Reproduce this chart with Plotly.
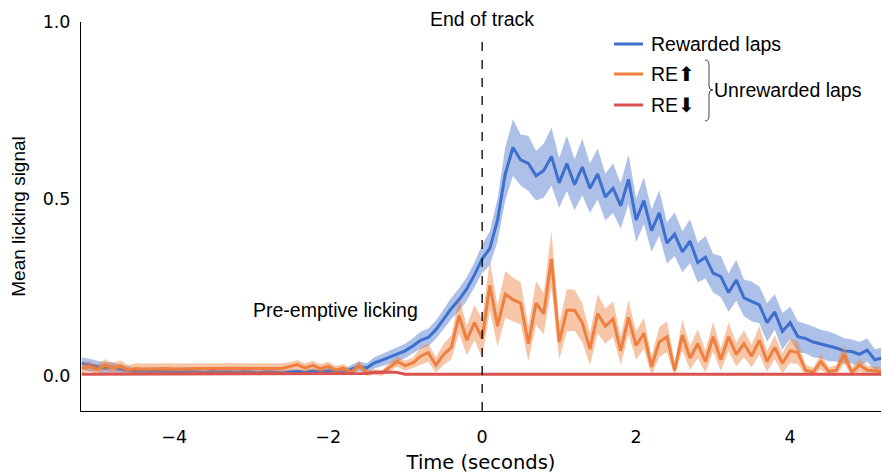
import numpy as np
import plotly.graph_objects as go

# Time axis (s), 0.1 s bins relative to the end of the track
time_s = np.round(np.arange(-52, 53) / 10.0, 1)

rewarded_mean = [
    0.035, 0.030, 0.027, 0.021, 0.024, 0.017, 0.015, 0.012, 0.014, 0.012,
    0.013, 0.011, 0.012, 0.010, 0.012, 0.010, 0.009, 0.012, 0.010, 0.011,
    0.009, 0.012, 0.010, 0.008, 0.011, 0.010, 0.008, 0.010, 0.012, 0.009,
    0.013, 0.010, 0.014, 0.012, 0.010, 0.018, 0.026, 0.022, 0.036, 0.044,
    0.052, 0.060, 0.070, 0.084, 0.100, 0.108, 0.130, 0.160, 0.190, 0.215,
    0.245, 0.285, 0.330, 0.360, 0.440, 0.570, 0.645, 0.610, 0.600, 0.565,
    0.580, 0.620, 0.545, 0.600, 0.540, 0.590, 0.530, 0.570, 0.505, 0.530,
    0.480, 0.555, 0.440, 0.495, 0.410, 0.460, 0.375, 0.400, 0.350, 0.380,
    0.320, 0.335, 0.290, 0.280, 0.235, 0.270, 0.220, 0.210, 0.200, 0.150,
    0.180, 0.125, 0.150, 0.110, 0.105, 0.095, 0.090, 0.083, 0.078, 0.070,
    0.068, 0.060, 0.072, 0.045, 0.050,
]
rewarded_sem = [
    0.016, 0.018, 0.015, 0.017, 0.014, 0.013, 0.012, 0.008, 0.007, 0.007,
    0.007, 0.006, 0.007, 0.007, 0.006, 0.007, 0.006, 0.007, 0.007, 0.006,
    0.007, 0.007, 0.006, 0.007, 0.007, 0.006, 0.007, 0.007, 0.006, 0.007,
    0.007, 0.007, 0.008, 0.008, 0.009, 0.012, 0.014, 0.013, 0.016, 0.017,
    0.018, 0.020, 0.020, 0.022, 0.024, 0.025, 0.026, 0.028, 0.030, 0.032,
    0.033, 0.035, 0.040, 0.048, 0.060, 0.075, 0.080, 0.072, 0.078, 0.070,
    0.076, 0.082, 0.070, 0.078, 0.072, 0.080, 0.070, 0.072, 0.066, 0.070,
    0.064, 0.070, 0.062, 0.066, 0.060, 0.064, 0.058, 0.062, 0.058, 0.062,
    0.056, 0.060, 0.055, 0.058, 0.054, 0.058, 0.052, 0.056, 0.052, 0.055,
    0.050, 0.052, 0.045, 0.044, 0.042, 0.044, 0.040, 0.042, 0.038, 0.036,
    0.034, 0.035, 0.033, 0.030, 0.030,
]

re_up_mean = [
    0.020, 0.026, 0.017, 0.030, 0.021, 0.028, 0.016, 0.020, 0.019, 0.020,
    0.021, 0.020, 0.019, 0.020, 0.021, 0.020, 0.020, 0.019, 0.020, 0.021,
    0.020, 0.019, 0.020, 0.020, 0.021, 0.020, 0.020, 0.026, 0.031, 0.022,
    0.029, 0.020, 0.027, 0.016, 0.022, 0.008, 0.030, 0.008, 0.010, 0.008,
    0.025, 0.040, 0.028, 0.036, 0.055, 0.065, 0.030, 0.060, 0.080, 0.170,
    0.100, 0.150, 0.105, 0.255, 0.140, 0.230, 0.215, 0.205, 0.090, 0.205,
    0.175, 0.330, 0.095, 0.185, 0.185, 0.150, 0.075, 0.175, 0.140, 0.160,
    0.070, 0.165, 0.085, 0.120, 0.025, 0.095, 0.110, 0.015, 0.115, 0.050,
    0.090, 0.040, 0.110, 0.045, 0.110, 0.060, 0.090, 0.055, 0.100, 0.040,
    0.080, 0.035, 0.070, 0.065, 0.015, 0.010, 0.040, 0.012, 0.015, 0.060,
    0.010, 0.030, 0.016, 0.013, 0.011,
]
re_up_sem = [
    0.014, 0.015, 0.014, 0.016, 0.015, 0.015, 0.014, 0.015, 0.015, 0.015,
    0.015, 0.015, 0.015, 0.015, 0.015, 0.015, 0.015, 0.015, 0.015, 0.015,
    0.015, 0.015, 0.015, 0.015, 0.015, 0.015, 0.015, 0.012, 0.013, 0.012,
    0.013, 0.012, 0.012, 0.011, 0.011, 0.008, 0.012, 0.008, 0.008, 0.008,
    0.012, 0.015, 0.014, 0.015, 0.024, 0.026, 0.022, 0.030, 0.034, 0.050,
    0.042, 0.050, 0.055, 0.070, 0.058, 0.066, 0.062, 0.060, 0.050, 0.062,
    0.058, 0.080, 0.050, 0.060, 0.058, 0.055, 0.045, 0.055, 0.050, 0.050,
    0.040, 0.048, 0.040, 0.044, 0.030, 0.042, 0.044, 0.025, 0.044, 0.034,
    0.040, 0.032, 0.042, 0.032, 0.040, 0.034, 0.038, 0.032, 0.040, 0.030,
    0.034, 0.028, 0.034, 0.032, 0.016, 0.012, 0.022, 0.012, 0.015, 0.026,
    0.012, 0.018, 0.012, 0.012, 0.012,
]

re_down_mean = [
    0.004, 0.004, 0.004, 0.004, 0.004, 0.005, 0.004, 0.004, 0.004, 0.004,
    0.004, 0.004, 0.004, 0.004, 0.004, 0.004, 0.004, 0.004, 0.004, 0.004,
    0.004, 0.004, 0.004, 0.004, 0.004, 0.004, 0.004, 0.004, 0.004, 0.004,
    0.004, 0.004, 0.004, 0.004, 0.004, 0.004, 0.005, 0.006, 0.009, 0.010,
    0.010, 0.009, 0.004, 0.004, 0.004, 0.004, 0.004, 0.004, 0.004, 0.004,
    0.004, 0.004, 0.005, 0.004, 0.004, 0.004, 0.004, 0.004, 0.004, 0.004,
    0.004, 0.004, 0.004, 0.004, 0.004, 0.004, 0.004, 0.004, 0.004, 0.004,
    0.004, 0.004, 0.004, 0.004, 0.004, 0.004, 0.004, 0.004, 0.004, 0.004,
    0.004, 0.004, 0.004, 0.004, 0.004, 0.004, 0.004, 0.004, 0.004, 0.004,
    0.004, 0.004, 0.004, 0.004, 0.004, 0.004, 0.004, 0.004, 0.004, 0.004,
    0.004, 0.004, 0.004, 0.004, 0.004,
]
re_down_sem = [0.002] * 105

BLUE, BLUE_BAND = "#3d6fcf", "rgba(70,115,205,0.45)"
ORANGE, ORANGE_BAND = "#ee7f3e", "rgba(238,128,62,0.45)"
RED, RED_BAND = "#d9534f", "rgba(217,83,79,0.35)"
FONT = "Liberation Sans, Arial, sans-serif"
TICK_FONT = "DejaVu Sans, sans-serif"

fig = go.Figure()


def add_series(mean, sem, line_color, band_color, name):
    mean = np.asarray(mean)
    sem = np.asarray(sem)
    upper = mean + sem
    lower = np.clip(mean - sem, 0, None)
    fig.add_trace(go.Scatter(x=time_s, y=upper, mode="lines", line=dict(width=0),
                             hoverinfo="skip", showlegend=False))
    fig.add_trace(go.Scatter(x=time_s, y=lower, mode="lines", line=dict(width=0),
                             fill="tonexty", fillcolor=band_color,
                             hoverinfo="skip", showlegend=False))
    fig.add_trace(go.Scatter(x=time_s, y=mean, mode="lines", name=name,
                             line=dict(color=line_color, width=3), showlegend=False))


add_series(rewarded_mean, rewarded_sem, BLUE, BLUE_BAND, "Rewarded laps")
add_series(re_up_mean, re_up_sem, ORANGE, ORANGE_BAND, "RE⬆")
add_series(re_down_mean, re_down_sem, RED, RED_BAND, "RE⬇")

# End-of-track marker
fig.add_shape(type="line", x0=0, x1=0, y0=-0.1, y1=0.962, xref="x", yref="y",
              line=dict(color="black", width=1.3, dash="dash"))
fig.add_annotation(x=0, y=1.0, xref="x", yref="y", text="End of track",
                   showarrow=False, yanchor="bottom", yshift=-10,
                   font=dict(family=FONT, size=19.5, color="black"))
fig.add_annotation(x=-1.9, y=0.187, xref="x", yref="y", text="Pre-emptive licking",
                   showarrow=False, font=dict(family=FONT, size=19.5, color="black"))

# Hand-built legend (paper coordinates)
L, R, T, B = 81, 881, 22, 411


def px(xp):
    return (xp - L) / (R - L)


def py(yp):
    return (B - yp) / (B - T)


legend_rows = [("Rewarded laps", BLUE, 44), ("RE⬆", ORANGE, 74), ("RE⬇", RED, 105)]
for label, color, ypix in legend_rows:
    fig.add_shape(type="line", xref="paper", yref="paper",
                  x0=px(614), x1=px(643), y0=py(ypix), y1=py(ypix),
                  line=dict(color=color, width=3))
    fig.add_annotation(xref="paper", yref="paper", x=px(649), y=py(ypix),
                       text=label, showarrow=False, xanchor="left", yanchor="middle",
                       font=dict(family=FONT, size=19.5, color="black"))

# Curly brace grouping the unrewarded conditions
bx0, bx1, btip = 705, 709, 713
by0, bym, by1 = 60, 90, 121
path = (f"M {px(bx0)} {py(by0)} Q {px(bx1)} {py(by0)} {px(bx1)} {py(by0 + 5)} "
        f"L {px(bx1)} {py(bym - 4)} Q {px(bx1)} {py(bym)} {px(btip)} {py(bym)} "
        f"Q {px(bx1)} {py(bym)} {px(bx1)} {py(bym + 4)} "
        f"L {px(bx1)} {py(by1 - 5)} Q {px(bx1)} {py(by1)} {px(bx0)} {py(by1)}")
fig.add_shape(type="path", xref="paper", yref="paper", path=path,
              line=dict(color="#444444", width=1))
fig.add_annotation(xref="paper", yref="paper", x=px(712), y=py(90),
                   text="Unrewarded laps", showarrow=False, xanchor="left",
                   yanchor="middle", font=dict(family=FONT, size=19.5, color="black"))

fig.update_layout(
    width=883, height=474,
    margin=dict(l=L, r=883 - R, t=T, b=474 - B),
    paper_bgcolor="white", plot_bgcolor="white",
    font=dict(family=FONT, size=18, color="black"),
    showlegend=False,
)
fig.update_xaxes(range=[-5.21, 5.18], tickvals=[-4, -2, 0, 2, 4],
                 ticktext=["−4", "−2", "0", "2", "4"],
                 tickfont=dict(family=TICK_FONT, size=17.5),
                 ticklabelstandoff=10,
                 showgrid=False, zeroline=False, showline=True,
                 linecolor="black", linewidth=1, ticks="",
                 title=dict(text="Time (seconds)", standoff=12,
                            font=dict(family=TICK_FONT, size=19.5)))
fig.update_yaxes(range=[-0.1, 1.0], tickvals=[0.0, 0.5, 1.0],
                 ticktext=["0.0", "0.5", "1.0"],
                 tickfont=dict(family=TICK_FONT, size=17.5),
                 ticklabelstandoff=6,
                 showgrid=False, zeroline=False, showline=True,
                 linecolor="black", linewidth=1, ticks="",
                 title=dict(text="Mean licking signal", standoff=12,
                            font=dict(family=FONT, size=19)))

fig.write_html("out.html")
